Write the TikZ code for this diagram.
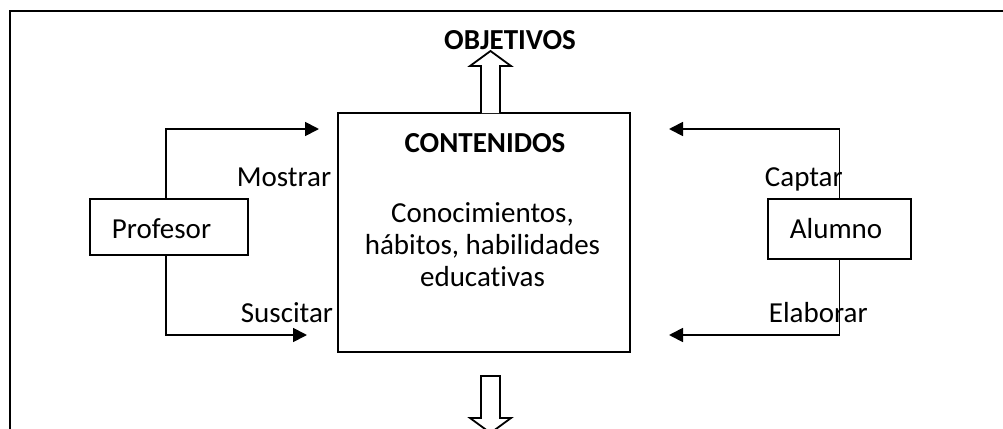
\documentclass[tikz,border=0pt]{standalone}
\usepackage{fontspec}
\setmainfont{Carlito}[Ligatures=NoCommon]
\usetikzlibrary{arrows.meta,calc}
\begin{document}
\begin{tikzpicture}[x=1pt,y=-1pt,line width=1.8pt,
  boxnode/.style={draw,line width=1.8pt,inner sep=0pt},
  txt/.style={inner sep=0pt,font=\fontsize{29}{32}\selectfont},
  conn/.style={line width=1.8pt,-{Triangle[length=14pt,width=14pt]}},
  blockarrow/.style={draw,line width=1.8pt,fill=white,line join=miter}]
\useasboundingbox (0,0) rectangle (1003,428);
\clip (0,0) rectangle (1003,428);
% outer frame
\draw (1010,11) -- (10,11) -- (10,440);
% main box
\node[boxnode,minimum width=292pt,minimum height=239pt] (main) at (484,232.5) {};
\node[txt,anchor=base,font=\fontsize{29}{32}\selectfont\bfseries] (cont) at (485,152) {CONTENIDOS};
\node[txt,anchor=base,align=center] (desc) at (482.5,286) {Conocimientos,\\h\'abitos, habilidades\\educativas};
% side boxes
\node[boxnode,minimum width=158pt,minimum height=56pt] (prof) at (169,227) {};
\node[txt,anchor=base west] (proft) at (111,238) {Profesor};
\node[boxnode,minimum width=143pt,minimum height=60pt] (alum) at (839.5,229) {};
\node[txt,anchor=base west] (alumt) at (789,238) {Alumno};
% connector ends
\coordinate (m1) at (319,129);
\coordinate (m2) at (307,335);
\coordinate (a1) at (669,129);
\coordinate (a2) at (669,335);
\coordinate (pn) at ($(prof.north)+(-3,0)$);
\coordinate (ps) at ($(prof.south)+(-3,0)$);
\draw[conn] (pn) |- (m1);
\draw[conn] (ps) |- (m2);
\draw[conn] (alum.north) |- (a1);
\draw[conn] (alum.south) |- (a2);
% labels
\node[txt,anchor=base east] (lmos) at (332,186) {Mostrar};
\node[txt,anchor=base east] (lsus) at (334,322) {Suscitar};
\node[txt,anchor=base west] (lcap) at (764,186) {Captar};
\node[txt,anchor=base west] (lela) at (768,322) {Elaborar};
% OBJETIVOS
\node[txt,anchor=base,font=\fontsize{29}{32}\selectfont\bfseries] (obj) at (510,50) {OBJETIVOS};
% up block arrow
\draw[blockarrow] (481,113) -- (481,66) -- (470,66) -- (490.5,51) -- (511,66) -- (500,66) -- (500,113);
% down block arrow
\draw[blockarrow] (481,376) -- (481,418) -- (470,418) -- (490.5,433) -- (511,418) -- (500,418) -- (500,376) -- cycle;
\end{tikzpicture}
\end{document}
